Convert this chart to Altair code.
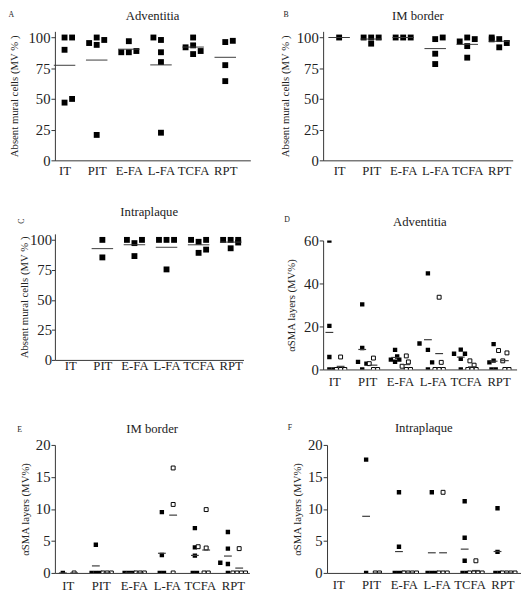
import altair as alt
import pandas as pd

categories = ["IT", "PIT", "E-FA", "L-FA", "TCFA", "RPT"]

# ---- Panel A: Adventitia, absent mural cells (MV %) ----
a_values = {"IT": [100, 100, 90, 47, 50], "PIT": [95.5, 94, 100, 98, 20.7],
            "E-FA": [88, 97, 88, 89], "L-FA": [100, 98, 88, 80, 22.5],
            "TCFA": [92, 100, 93.6, 86.5, 89], "RPT": [96.3, 97.3, 77.5, 64.5]}
a_slots = {"IT": [0, 1, 0, 0, 1], "PIT": [-1, 0, 0, 1, 0], "E-FA": [-1, 0, 0, 1],
           "L-FA": [-1, 0, 0, 0, 0], "TCFA": [-1, 0, 0, 0, 1], "RPT": [0, 1, 0, 0]}

# ---- Panel B: IM border ----
b_values = {"IT": [100], "PIT": [100, 95, 100, 100], "E-FA": [100, 100, 100],
            "L-FA": [98.7, 100, 86.8, 78.4], "TCFA": [96.8, 100, 98.7, 93, 83.6],
            "RPT": [100, 98.5, 98.7, 95.5, 92]}
b_slots = {"IT": [0], "PIT": [-1, 0, 0, 1], "E-FA": [-1, 0, 1], "L-FA": [0, 1, 0, 0],
           "TCFA": [-1, 0, 1, 0, 0], "RPT": [-1, -1, 0, 1, 0]}

# ---- Panel C: Intraplaque ----
c_values = {"IT": [], "PIT": [100, 85.4], "E-FA": [100, 97.3, 100, 86.5],
            "L-FA": [100, 100, 100, 75.4], "TCFA": [100, 98.4, 100, 89.2, 91.9],
            "RPT": [100, 100, 100, 97.8, 93]}
c_slots = {"IT": [], "PIT": [0, 0], "E-FA": [-1, 0, 1, 0], "L-FA": [-1, 0, 1, 0],
           "TCFA": [-1, 0, 1, 0, 1], "RPT": [-1, 0, 1, 1, 0]}

# ---- Panel D: Adventitia, aSMA layers (MV%) ----
d_filled = {"IT": [60, 20.3, 5.8, 0, 0], "PIT": [30.3, 10, 3.5, 2.7, 0],
            "E-FA": [9.1, 6.0, 4.6, 4.6, 3.6], "L-FA": [44.7, 12.1, 9.1, 3.3, 0],
            "TCFA": [9.2, 7.3, 7.3, 4.9, 0], "RPT": [11.8, 4.1, 3.3, 0, 0]}
d_filled_slots = {"IT": [0, 0, 0, 0, 1], "PIT": [0, 0, -1, 1, 0], "E-FA": [0, 0.5, -1, 1, 0],
                  "L-FA": [0, -2, 0, 1, 0], "TCFA": [0, -1.6, 1, 0, 0], "RPT": [0, 0, -1, -0.5, 0.5]}
d_open = {"IT": [5.8, 0, 0, 0], "PIT": [5.3, 2.7, 0, 0], "E-FA": [6.3, 3.5, 1.5, 0, 0],
          "L-FA": [33.6, 3.3, 0, 0, 0], "TCFA": [4.0, 2.0, 0, 0, 0], "RPT": [8.8, 7.7, 4.0, 0, 0]}
d_open_slots = {"IT": [0, -1, 0, 1], "PIT": [0, -1, 0, 1], "E-FA": [0, 0.5, -1, 0, 1],
                "L-FA": [0, 0.5, -1, 0, 1], "TCFA": [-0.5, 0.5, -1, 0, 1], "RPT": [-1.5, 0.5, -0.5, 0, 1]}

# ---- Panel E: IM border, aSMA layers ----
e_filled = {"IT": [0], "PIT": [4.4, 0, 0, 0], "E-FA": [0, 0, 0], "L-FA": [9.5, 2.8, 0, 0],
            "TCFA": [7.0, 4.0, 2.7, 0, 0], "RPT": [6.4, 3.8, 1.6, 1.4, 0]}
e_filled_slots = {"IT": [0], "PIT": [0, -1, 0, 1], "E-FA": [-1, 0, 1], "L-FA": [0, 0, -0.5, 0.5],
                  "TCFA": [0, 0, 0, -0.5, 0.5], "RPT": [0, 0, -1.8, 0, 0]}
e_open = {"IT": [0], "PIT": [0, 0, 0], "E-FA": [0, 0, 0], "L-FA": [16.4, 10.7, 0],
          "TCFA": [9.9, 4.1, 3.9, 0, 0], "RPT": [3.8, 0, 0, 0, 0]}
e_open_slots = {"IT": [0], "PIT": [-1, 0, 1], "E-FA": [-1, 0, 1], "L-FA": [0, 0, 0],
                "TCFA": [0, -1.9, 0, -0.5, 0.5], "RPT": [0, -1.5, -0.5, 0.5, 1.5]}

# ---- Panel F: Intraplaque, aSMA layers ----
f_filled = {"IT": [], "PIT": [17.7, 0], "E-FA": [12.6, 4.1, 0, 0, 0], "L-FA": [12.6, 0, 0, 0],
            "TCFA": [11.2, 5.5, 1.9, 0, 0], "RPT": [10.1, 3.3, 0, 0]}
f_filled_slots = {"IT": [], "PIT": [0, 0], "E-FA": [0, 0, -1, 0, 1], "L-FA": [0, -1, 0, 1],
                  "TCFA": [0, 0, 0, -0.5, 0.5], "RPT": [0, 0, -0.5, 0.5]}
f_open = {"IT": [], "PIT": [0, 0], "E-FA": [0, 0, 0, 0], "L-FA": [12.6, 0, 0, 0],
          "TCFA": [1.9, 0, 0, 0, 0], "RPT": [0, 0, 0, 0]}
f_open_slots = {"IT": [], "PIT": [-0.5, 0.5], "E-FA": [-1.5, -0.5, 0.5, 1.5], "L-FA": [0, -1, 0, 1],
                "TCFA": [0, -1.5, -0.5, 0.5, 1.5], "RPT": [-1.5, -0.5, 0.5, 1.5]}

FONT = "Liberation Serif"
INK = "#222222"
SLOT_ABC = 0.235
SLOT_DEF = 0.128
OPEN_SHIFT = 0.342
LABEL_SHIFT = 0.15
Y1_TITLE = "Absent mural cells (MV % )"
Y2_TITLE = "\u03b1SMA layers (MV%)"


def label_expr(shift):
    arr = "[" + ",".join("'%s'" % c for c in categories) + "]"
    return "%s[round(datum.value - %s)]" % (arr, shift)


def abc_frame(values, slots):
    rows = []
    for i, c in enumerate(categories):
        for v, s in zip(values[c], slots[c]):
            rows.append({"cat": c, "value": v, "pos": i + s * SLOT_ABC, "center": float(i)})
    return pd.DataFrame(rows, columns=["cat", "value", "pos", "center"])


def def_frame(filled, fslots, opn, oslots):
    rows = []
    for i, c in enumerate(categories):
        for v, s in zip(filled[c], fslots[c]):
            rows.append({"cat": c, "grp": "filled", "value": v,
                         "pos": i + s * SLOT_DEF, "center": float(i)})
        for v, s in zip(opn[c], oslots[c]):
            rows.append({"cat": c, "grp": "open", "value": v,
                         "pos": i + OPEN_SHIFT + s * SLOT_DEF, "center": i + OPEN_SHIFT})
    return pd.DataFrame(rows, columns=["cat", "grp", "value", "pos", "center"])


def text_layer(text, dx, dy, size, angle=0):
    return alt.Chart(pd.DataFrame({"t": [text]})).mark_text(
        font=FONT, fontSize=size, color=INK, align="center", baseline="middle", angle=angle
    ).encode(x=alt.value(dx), y=alt.value(dy), text="t:N")


def heading(title, letter, width, ty, lxy, langle=0):
    return [text_layer(title, width / 2, ty, 13), text_layer(letter, lxy[0], lxy[1], 8, langle)]


def panel_abc(df, title, letter, ty, lxy, langle, xdom, width, height, y_pad, x_lpad,
              y_lpad=1, tick=4):
    xs = alt.Scale(domain=xdom, nice=False, zero=False)
    ys = alt.Scale(domain=[0, 105], nice=False)
    xax = alt.Axis(values=list(range(6)), labelExpr=label_expr(0), ticks=False, title=None,
                   labelPadding=x_lpad, labelFontSize=13)
    yax = alt.Axis(values=[0, 25, 50, 75, 100], title=Y1_TITLE, titlePadding=y_pad,
                   tickSize=tick, labelPadding=y_lpad, labelFontSize=15, titleFontSize=11)
    pts = alt.Chart(df).mark_square(size=36, color="black", opacity=1).encode(
        x=alt.X("pos:Q", scale=xs, axis=xax), y=alt.Y("value:Q", scale=ys, axis=yax))
    mean = alt.Chart(df).mark_tick(orient="horizontal", size=22, thickness=1, color="#3a3a3a").encode(
        x=alt.X("center:Q", scale=xs, axis=xax), y=alt.Y("mean(value):Q", scale=ys, axis=yax))
    return alt.layer(pts, mean, *heading(title, letter, width, ty, lxy, langle)).properties(
        width=width, height=height)


def panel_def(df, title, letter, ty, lxy, ymax, yvals, xdom, width, height, y_pad, x_lpad):
    xs = alt.Scale(domain=xdom, nice=False, zero=False)
    ys = alt.Scale(domain=[0, ymax], nice=False)
    xax = alt.Axis(values=[i + LABEL_SHIFT for i in range(6)], labelExpr=label_expr(LABEL_SHIFT),
                   ticks=False, title=None, labelPadding=x_lpad, labelFontSize=13)
    yax = alt.Axis(values=yvals, title=Y2_TITLE, titlePadding=y_pad,
                   tickSize=4, labelPadding=1, labelFontSize=15, titleFontSize=11)
    filled = alt.Chart(df).transform_filter(alt.datum.grp == "filled").mark_square(
        size=20, color="black", opacity=1, clip=True).encode(
        x=alt.X("pos:Q", scale=xs, axis=xax), y=alt.Y("value:Q", scale=ys, axis=yax))
    opened = alt.Chart(df).transform_filter(alt.datum.grp == "open").mark_point(
        shape="square", size=16, filled=True, fill="white", stroke="black", strokeWidth=1,
        opacity=1, clip=True).encode(
        x=alt.X("pos:Q", scale=xs, axis=xax), y=alt.Y("value:Q", scale=ys, axis=yax))
    mean = alt.Chart(df).mark_tick(orient="horizontal", size=8, thickness=1.2, color="#3a3a3a").encode(
        x=alt.X("center:Q", scale=xs, axis=xax), y=alt.Y("mean(value):Q", scale=ys, axis=yax))
    return alt.layer(filled, opened, mean, *heading(title, letter, width, ty, lxy)).properties(
        width=width, height=height)


A = panel_abc(abc_frame(a_values, a_slots), "Adventitia", "A", -15.5, (-44.5, -17), 0,
              [-0.3, 5.78], 200, 132, 8.5, 4.5)
B = panel_abc(abc_frame(b_values, b_slots), "IM border", "B", -15.5, (-38, -17), 0,
              [-0.5, 5.42], 194, 132, 6, 4.5)
C = panel_abc(abc_frame(c_values, c_slots), "Intraplaque", "C", -22, (-34, -13), 270,
              [-0.48, 5.4], 193, 129, 0, 0, y_lpad=0, tick=3.5)
D = panel_def(def_frame(d_filled, d_filled_slots, d_open, d_open_slots), "Adventitia", "D", -19,
              (-37, -21), 60, [0, 20, 40, 60], [-0.19, 5.7], 198, 132, 7.5, 6.5)
E = panel_def(def_frame(e_filled, e_filled_slots, e_open, e_open_slots), "IM border", "E", -16,
              (-36, -15), 20, [0, 5, 10, 15, 20], [-0.24, 5.65], 199, 131, 4.5, 6.5)
F = panel_def(def_frame(f_filled, f_filled_slots, f_open, f_open_slots), "Intraplaque", "F", -17,
              (-38, -17), 20, [0, 5, 10, 15, 20], [-0.19, 5.7], 198, 131, 5.5, 5.5)

left = alt.vconcat(A, C, spacing=29.25)
right = alt.vconcat(B, D, spacing=82, bounds="flush")
upper = alt.hconcat(left, right, spacing=29.5)
lower = alt.hconcat(E, F, spacing=38.5)

chart = alt.vconcat(upper, lower, spacing=34.25).properties(
    padding={"top": -5, "left": 0, "right": 0, "bottom": 0}
).configure_view(
    stroke=None
).configure_axis(
    grid=False, domainColor="#333333", tickColor="#333333", labelColor=INK, titleColor=INK,
    labelFont=FONT, titleFont=FONT, titleFontWeight="normal", domainWidth=1, tickWidth=1
)

chart.save("out.html", embed_options={"renderer": "svg", "actions": False})
